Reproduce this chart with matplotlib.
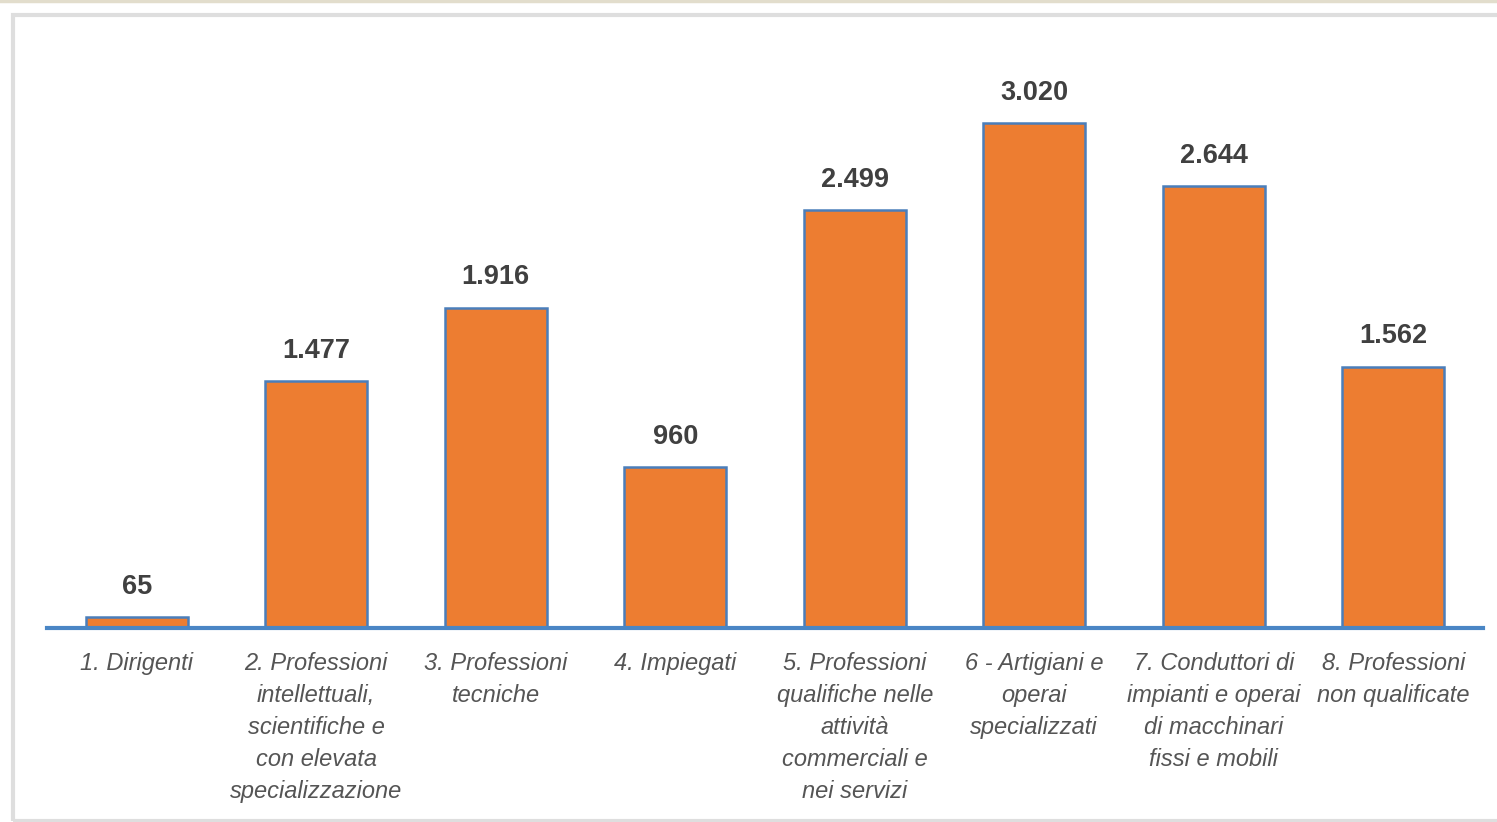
import matplotlib
matplotlib.use("Agg")
import matplotlib.pyplot as plt
from matplotlib.patches import Rectangle
from matplotlib.lines import Line2D

categories = [
    "1. Dirigenti",
    "2. Professioni\nintellettuali,\nscientifiche e\ncon elevata\nspecializzazione",
    "3. Professioni\ntecniche",
    "4. Impiegati",
    "5. Professioni\nqualifiche nelle\nattività\ncommerciali e\nnei servizi",
    "6 - Artigiani e\noperai\nspecializzati",
    "7. Conduttori di\nimpianti e operai\ndi macchinari\nfissi e mobili",
    "8. Professioni\nnon qualificate",
]
values = [65, 1477, 1916, 960, 2499, 3020, 2644, 1562]

W, H = 1497, 822
fig = plt.figure(figsize=(W / 100, H / 100), dpi=100)
fig.patch.set_facecolor("white")

# outer decorations
fig.add_artist(Line2D([0, 1], [1 - 1 / H, 1 - 1 / H], transform=fig.transFigure,
                      color="#e2ddcc", lw=2.5))
fig.add_artist(Rectangle((13 / W, 1 / H), 1.2, (821 - 15) / H, transform=fig.transFigure,
                         fill=False, edgecolor="#dedede", lw=3))

ax = fig.add_axes([47 / W, (H - 628) / H, 1436 / W, (628 - 26) / H])
x = list(range(len(categories)))
bars = ax.bar(x, values, width=0.57, color="#ED7D31", edgecolor="#4A7EBB", linewidth=1.8, zorder=2)
ax.set_xlim(-0.5, 7.5)
ax.set_ylim(0, 3600)

for xi, v in zip(x, values):
    label = f"{v:,}".replace(",", ".")
    ax.annotate(label, (xi, v), xytext=(0, 12.5), textcoords="offset points",
                ha="center", va="bottom", fontsize=19.5, fontweight="bold",
                color="#404040", family=["Liberation Sans", "DejaVu Sans"])

for s in ["top", "right", "left"]:
    ax.spines[s].set_visible(False)
ax.spines["bottom"].set_color("#4A86C5")
ax.spines["bottom"].set_linewidth(3)
ax.spines["bottom"].set_zorder(3)
ax.set_yticks([])
ax.set_xticks(x)
ax.set_xticklabels(categories, fontsize=17, style="italic", color="#555555",
                   family=["Liberation Sans", "DejaVu Sans"], linespacing=1.5)
ax.tick_params(axis="x", length=0, pad=17.5)

fig.savefig("out.png", dpi=100)
